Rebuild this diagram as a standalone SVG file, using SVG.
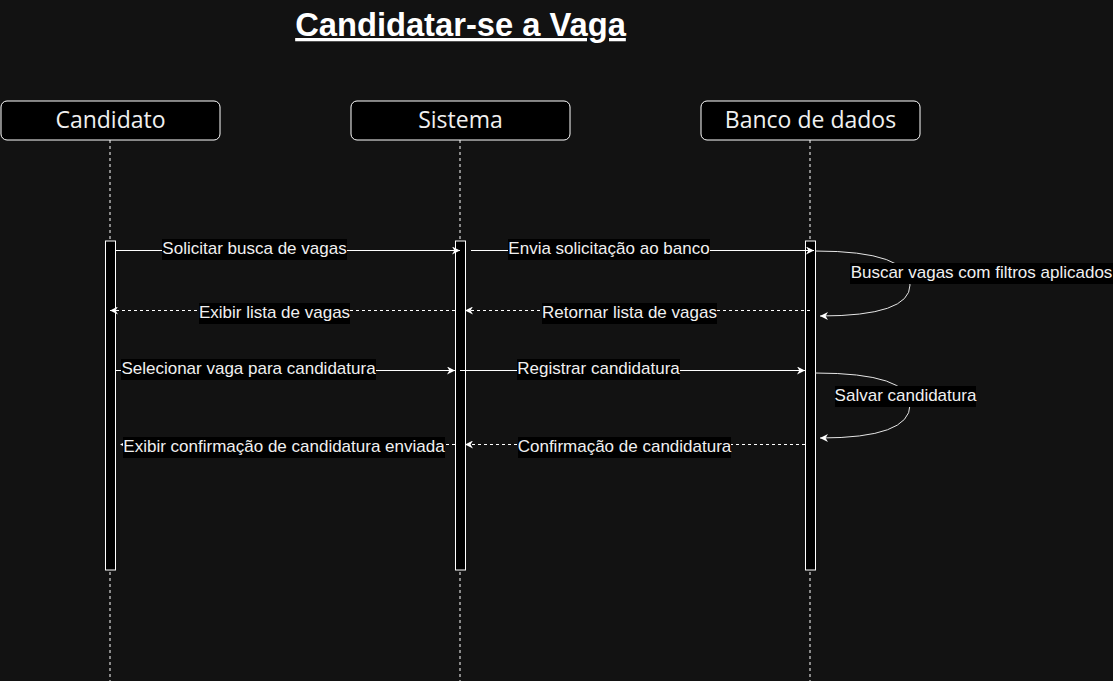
<svg xmlns="http://www.w3.org/2000/svg" width="1113" height="681" viewBox="0 0 1113 681">
<style>
.hdr{fill:#000;stroke:#fff;stroke-width:1}
.hdrt{font-family:"Open Sans","DejaVu Sans",sans-serif;font-size:23px;fill:#f0f0f0;text-anchor:middle}
.life{stroke:#fff;stroke-width:1;stroke-dasharray:3 3;fill:none}
.act{fill:#000;stroke:#fff;stroke-width:1}
.msg{stroke:#fff;stroke-width:1;fill:none;marker-end:url(#arr)}
.ret{stroke:#fff;stroke-width:1;fill:none;stroke-dasharray:3 3;marker-end:url(#arr)}
.self{stroke:#e6e6e6;stroke-width:1;fill:none;marker-end:url(#arr)}
.lbg{fill:#000}
.lbl{font-family:"Liberation Sans",Arial,sans-serif;font-size:17px;fill:#f0f0f0;text-anchor:middle}
</style>
<defs>
<marker id="arr" viewBox="0 0 10 10" refX="10" refY="5" markerWidth="9" markerHeight="8" markerUnits="userSpaceOnUse" orient="auto">
<path d="M0,0 L10,5 L0,10 L3,5 Z" fill="#fff"/>
</marker>
</defs>
<rect x="0" y="0" width="1113" height="681" fill="#121212"/>
<text x="460.5" y="36" font-family="Liberation Sans,Arial,sans-serif" font-size="32.7" font-weight="bold" fill="#ffffff" text-anchor="middle" text-decoration="underline">Candidatar-se a Vaga</text>

<g id="candidato">
<line class="life" x1="110" y1="140" x2="110" y2="681"/>
<rect class="hdr" x="1" y="101" width="219" height="39" rx="6"/>
<text class="hdrt" x="110.5" y="128">Candidato</text>
<rect class="act" x="105.5" y="241" width="10" height="329"/>
</g>
<g id="sistema">
<line class="life" x1="460" y1="140" x2="460" y2="681"/>
<rect class="hdr" x="351" y="101" width="219" height="39" rx="6"/>
<text class="hdrt" x="460.5" y="128">Sistema</text>
<rect class="act" x="455.5" y="241" width="10" height="329"/>
</g>
<g id="banco">
<line class="life" x1="810" y1="140" x2="810" y2="681"/>
<rect class="hdr" x="701" y="101" width="219" height="39" rx="6"/>
<text class="hdrt" x="810.5" y="128">Banco de dados</text>
<rect class="act" x="805.5" y="241" width="10" height="329"/>
</g>

<g id="connectors">
<path class="msg" d="M116,250.5 L460,250.5"/>
<rect class="lbg" x="162" y="239" width="185" height="21"/>
<text class="lbl" x="254.5" y="254">Solicitar busca de vagas</text>

<path class="msg" d="M471,250.5 L814,250.5"/>
<rect class="lbg" x="508" y="239" width="202" height="21"/>
<text class="lbl" x="609" y="254">Envia solicitação ao banco</text>

<path class="self" d="M815,251 Q910,251 910,285 Q910,316 820,316"/>
<rect class="lbg" x="850" y="263" width="263" height="21"/>
<text class="lbl" x="981.5" y="278">Buscar vagas com filtros aplicados</text>

<path class="ret" d="M810,310.5 L465,310.5"/>
<rect class="lbg" x="542" y="303" width="175" height="21"/>
<text class="lbl" x="629.5" y="318">Retornar lista de vagas</text>

<path class="ret" d="M455,310.5 L110,310.5"/>
<rect class="lbg" x="199" y="303" width="151" height="21"/>
<text class="lbl" x="274.5" y="318">Exibir lista de vagas</text>

<path class="msg" d="M116,370.5 L455,370.5"/>
<rect class="lbg" x="121" y="359" width="255" height="21"/>
<text class="lbl" x="248.5" y="374">Selecionar vaga para candidatura</text>

<path class="msg" d="M460,370.5 L805,370.5"/>
<rect class="lbg" x="517" y="359" width="163" height="21"/>
<text class="lbl" x="598.5" y="374">Registrar candidatura</text>

<path class="self" d="M815,373 Q910,373 910,405 Q910,438 820,438"/>
<rect class="lbg" x="835" y="386" width="141" height="21"/>
<text class="lbl" x="905.5" y="401">Salvar candidatura</text>

<path class="ret" d="M805,444.5 L465,444.5"/>
<rect class="lbg" x="518" y="437" width="213" height="21"/>
<text class="lbl" x="624.5" y="452">Confirmação de candidatura</text>

<path class="ret" d="M455,444.5 L120,444.5"/>
<rect class="lbg" x="123" y="437" width="322" height="21"/>
<text class="lbl" x="284" y="452">Exibir confirmação de candidatura enviada</text>
</g>
</svg>
